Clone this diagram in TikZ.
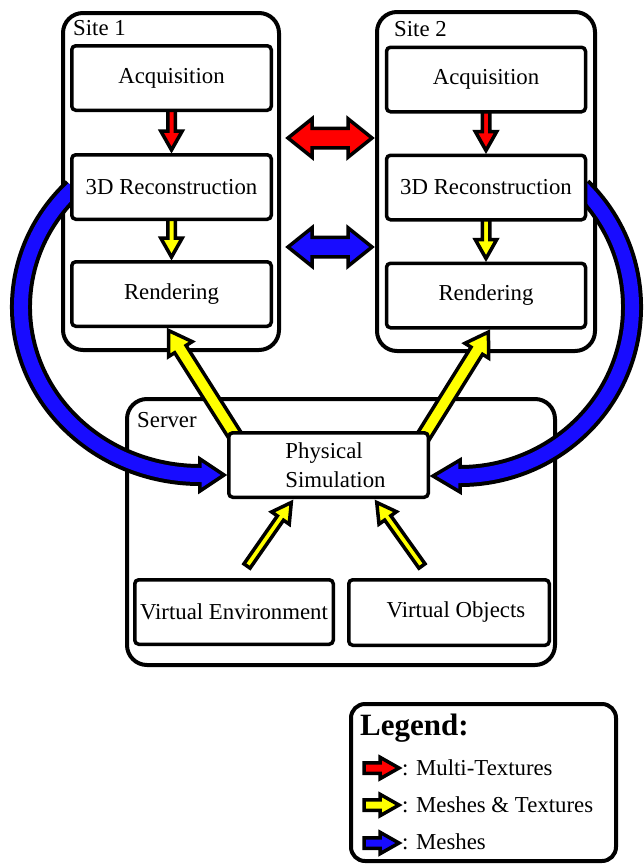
\documentclass[tikz,border=0pt]{standalone}
\usepackage{fontspec}
\setmainfont{Liberation Serif}
\usetikzlibrary{calc}
\pgfdeclarelayer{bg}
\pgfdeclarelayer{arr}
\pgfsetlayers{bg,arr,main}
\newcommand\fs{\fontsize{22.8}{29}\selectfont}
\definecolor{ared}{RGB}{255,0,0}
\definecolor{ayel}{RGB}{255,255,0}
\definecolor{ablue}{RGB}{24,12,255}
% #1 tail, #2 tip, #3 shaft half width, #4 head half width, #5 head length, #6 fill
\newcommand\blockarrow[6]{%
  \coordinate (ba-t) at ($(#2)!3pt!(#1)$);
  \coordinate (ba-c) at ($(ba-t)!#5!(#1)$);
  \filldraw[arrowline, fill=#6]
    ($(#1)!#3!90:(ba-t)$) -- ($(ba-c)!#3!90:(ba-t)$) -- ($(ba-c)!#4!90:(ba-t)$)
    -- (ba-t) -- ($(ba-c)!#4!-90:(ba-t)$) -- ($(ba-c)!#3!-90:(ba-t)$)
    -- ($(#1)!#3!-90:(ba-t)$) -- cycle;
}
% #1, #2 tips, #3 shaft half width, #4 head half width, #5 head length, #6 fill
\newcommand\dblarrow[6]{%
  \coordinate (da-a) at ($(#1)!3pt!(#2)$);
  \coordinate (da-b) at ($(#2)!3pt!(#1)$);
  \coordinate (da-ca) at ($(da-a)!#5!(da-b)$);
  \coordinate (da-cb) at ($(da-b)!#5!(da-a)$);
  \filldraw[arrowline, fill=#6] (da-a)
    -- ($(da-ca)!#4!90:(da-b)$) -- ($(da-ca)!#3!90:(da-b)$)
    -- ($(da-cb)!#3!-90:(da-a)$) -- ($(da-cb)!#4!-90:(da-a)$)
    -- (da-b)
    -- ($(da-cb)!#4!90:(da-a)$) -- ($(da-cb)!#3!90:(da-a)$)
    -- ($(da-ca)!#3!-90:(da-b)$) -- ($(da-ca)!#4!-90:(da-b)$) -- cycle;
}
% head only: #1 base, #2 tip, #3 head half width, #4 fill
\newcommand\headonly[4]{%
  \coordinate (ho-t) at ($(#2)!3pt!(#1)$);
  \filldraw[arrowline, fill=#4] ($(#1)!#3!90:(ho-t)$) -- (ho-t) -- ($(#1)!#3!-90:(ho-t)$) -- cycle;
}
\begin{document}
\begin{tikzpicture}[x=1pt,y=1pt,
  box/.style={draw, line width=3.5pt, rounded corners=4pt, fill=white,
    minimum width=199.5pt, minimum height=64.5pt, inner sep=0pt, font=\fs},
  container/.style={draw, line width=4pt, rounded corners=20pt, fill=white, inner sep=0pt},
  lbl/.style={anchor=base west, inner sep=0pt, font=\fs},
  arrowline/.style={draw=black, line width=3.5pt, line join=miter},
]
\useasboundingbox (0,0) rectangle (644,-865);

% containers
\begin{pgfonlayer}{bg}
\node[container, minimum width=216pt, minimum height=337pt] (site1) at (171,-181.5) {};
\node[container, minimum width=218pt, minimum height=339pt] (site2) at (486,-181.5) {};
\node[container, minimum width=428pt, minimum height=266pt] (server) at (341,-532) {};
\node[container, rounded corners=14pt, minimum width=265pt, minimum height=157pt] (legend) at (483.5,-782.5) {};
\end{pgfonlayer}

% labels
\node[lbl] (l1) at (73,-35) {Site 1};
\node[lbl] (l2) at (394,-36) {Site 2};
\node[lbl] (l3) at (137,-427) {Server};
\node[lbl, font=\fontsize{31}{36}\selectfont\bfseries] (lt) at (360,-735) {Legend:};
\node[lbl] (lg1) at (402,-775) {: Multi-Textures};
\node[lbl] (lg2) at (402,-812) {: Meshes \& Textures};
\node[lbl] (lg3) at (402,-849) {: Meshes};

% inner boxes
\node[box] (acq1) at (171.5,-78) {Acquisition};
\node[box] (rec1) at (171.5,-187) {3D Reconstruction};
\node[box] (rend1) at (171.5,-294) {Rendering};
\node[box, minimum width=199pt] (acq2) at (486,-79.5) {Acquisition};
\node[box, minimum width=199pt] (rec2) at (486,-187.5) {3D Reconstruction};
\node[box, minimum width=199pt] (rend2) at (486,-295.5) {Rendering};
\node[box, align=left] (phys) at (328.5,-465) {\hspace*{14pt}Physical\\\hspace*{14pt}Simulation};
\node[box, minimum width=198.5pt] (venv) at (234,-612) {Virtual Environment};
\node[box, minimum width=200.5pt, minimum height=65.5pt] (vobj) at (449,-612.5) {\hspace*{14pt}Virtual Objects};

% arrows
\begin{pgfonlayer}{arr}
% inside sites
\blockarrow{acq1.center}{rec1.north}{3.75pt}{10.75pt}{19pt}{ared}
\blockarrow{rec1.center}{rend1.north}{3.75pt}{10.75pt}{19pt}{ayel}
\blockarrow{acq2.center}{rec2.north}{3.75pt}{10.75pt}{19pt}{ared}
\blockarrow{rec2.center}{rend2.north}{3.75pt}{10.75pt}{19pt}{ayel}

% double arrows between sites
\path (site1.east |- 0,-138) ++(4,0) coordinate (dra);
\path (site2.west |- 0,-138) coordinate (drb);
\path (site1.east |- 0,-247) ++(4,0) coordinate (dba);
\path (site2.west |- 0,-247) coordinate (dbb);
\dblarrow{dra}{drb}{9.75pt}{19.25pt}{24pt}{ared}
\dblarrow{dba}{dbb}{9.75pt}{19.25pt}{24pt}{ablue}

% server to rendering
\coordinate (ytl) at ($(phys.north west)+(9,-6)$);
\coordinate (ytr) at ($(phys.north east)+(-7,-6)$);
\coordinate (yhl) at ($(rend1.south)+(-4.5,0)$);
\coordinate (yhr) at ($(rend2.south)+(4,0)$);
\blockarrow{ytl}{yhl}{6.75pt}{14pt}{22pt}{ayel}
\blockarrow{ytr}{yhr}{6.75pt}{14pt}{22pt}{ayel}

% virtual world to simulation
\coordinate (vtl) at (247,-566);
\coordinate (vtr) at (422,-566);
\coordinate (vhl) at ($(phys.south)+(-35.5,-1)$);
\coordinate (vhr) at ($(phys.south)+(46.5,-1)$);
\blockarrow{vtl}{vhl}{3.75pt}{10.75pt}{19pt}{ayel}
\blockarrow{vtr}{vhr}{3.75pt}{10.75pt}{19pt}{ayel}

% curved mesh arrows
\coordinate (cl0) at ($(rec1.west)+(3.4,-1.2)$);
\coordinate (cltip) at ($(phys.west)+(0,-10)$);
\draw[line width=22pt, black] (cl0) arc[start angle=135, end angle=270, x radius=179pt, y radius=168pt] coordinate (clb);
\headonly{clb}{cltip}{16pt}{ablue}
\draw[line width=14pt, ablue] (cl0) arc[start angle=135, end angle=270, x radius=179pt, y radius=168pt] -- ++(4,0);

\coordinate (cr0) at ($(rec2.east)+(-5.6,0)$);
\coordinate (crtip) at ($(phys.east)+(0,-11)$);
\draw[line width=22pt, black] (cr0) arc[start angle=45, end angle=-90, x radius=172pt, y radius=169pt] coordinate (crb);
\headonly{crb}{crtip}{16pt}{ablue}
\draw[line width=14pt, ablue] (cr0) arc[start angle=45, end angle=-90, x radius=172pt, y radius=169pt] -- ++(-4,0);

% legend arrows
\coordinate (la1) at (364,-768); \coordinate (lb1) at (lg1.base west |- 0,-768);
\coordinate (la2) at (364,-805); \coordinate (lb2) at (lg2.base west |- 0,-805);
\coordinate (la3) at (364,-843); \coordinate (lb3) at (lg3.base west |- 0,-843);
\blockarrow{la1}{lb1}{5.25pt}{10.75pt}{19pt}{ared}
\blockarrow{la2}{lb2}{5.25pt}{10.75pt}{19pt}{ayel}
\blockarrow{la3}{lb3}{5.25pt}{10.75pt}{19pt}{ablue}
\end{pgfonlayer}
\end{tikzpicture}
\end{document}
